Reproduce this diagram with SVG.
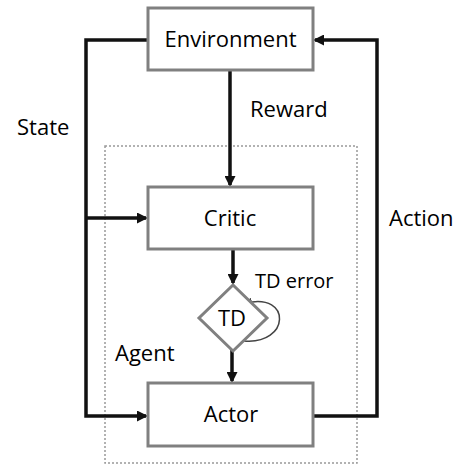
<svg xmlns="http://www.w3.org/2000/svg" width="467" height="466" viewBox="0 0 467 466">
<style>
.box{fill:#fff;stroke:#808080;stroke-width:3}
.lbl{font-family:"Open Sans","Liberation Sans",sans-serif;font-size:22px;fill:#000}
.conn{fill:none;stroke:#111;stroke-width:3.5}
</style>
<defs>
<marker id="ah" markerWidth="11" markerHeight="11" refX="9" refY="5.5" orient="auto" markerUnits="userSpaceOnUse"><path d="M0,0 L11,5.5 L0,11 Z" fill="#111"/></marker>
<marker id="ahs" markerWidth="8" markerHeight="8" refX="6" refY="4" orient="auto" markerUnits="userSpaceOnUse"><path d="M0,0 L8,4 L0,8 Z" fill="#444"/></marker>
</defs>
<rect id="agent-frame" x="105" y="146" width="252" height="317" fill="none" stroke="#999" stroke-width="1.5" stroke-dasharray="2,2"/>
<g id="connectors">
<path class="conn" d="M148,40 H86 V416 H146" marker-end="url(#ah)"/>
<path class="conn" d="M86,218 H146" marker-end="url(#ah)"/>
<path class="conn" d="M230,70 V185" marker-end="url(#ah)"/>
<path class="conn" d="M233,249 V283" marker-end="url(#ah)"/>
<path class="conn" d="M232,350 V381" marker-end="url(#ah)"/>
<path class="conn" d="M313,416 H377 V40 H315" marker-end="url(#ah)"/>
<path d="M244,341 C290,345 292,292 246,303" fill="none" stroke="#444" stroke-width="1.5" marker-end="url(#ahs)"/>
</g>
<g id="environment"><rect class="box" x="148" y="8" width="165" height="62"/><text class="lbl" x="230.5" y="47" text-anchor="middle">Environment</text></g>
<g id="critic"><rect class="box" x="148" y="187" width="165" height="62"/><text class="lbl" x="230" y="226" text-anchor="middle">Critic</text></g>
<g id="td"><polygon class="box" points="233,285 267,318 233,351 199,318"/><text class="lbl" x="232" y="326" text-anchor="middle">TD</text></g>
<g id="actor"><rect class="box" x="148" y="383" width="165" height="63"/><text class="lbl" x="231" y="422" text-anchor="middle">Actor</text></g>
<text class="lbl" x="17" y="135">State</text>
<text class="lbl" x="250" y="117">Reward</text>
<text class="lbl" x="389" y="226">Action</text>
<text class="lbl" x="115" y="361">Agent</text>
<text class="lbl" x="255" y="288" style="font-size:20px">TD error</text>
</svg>
